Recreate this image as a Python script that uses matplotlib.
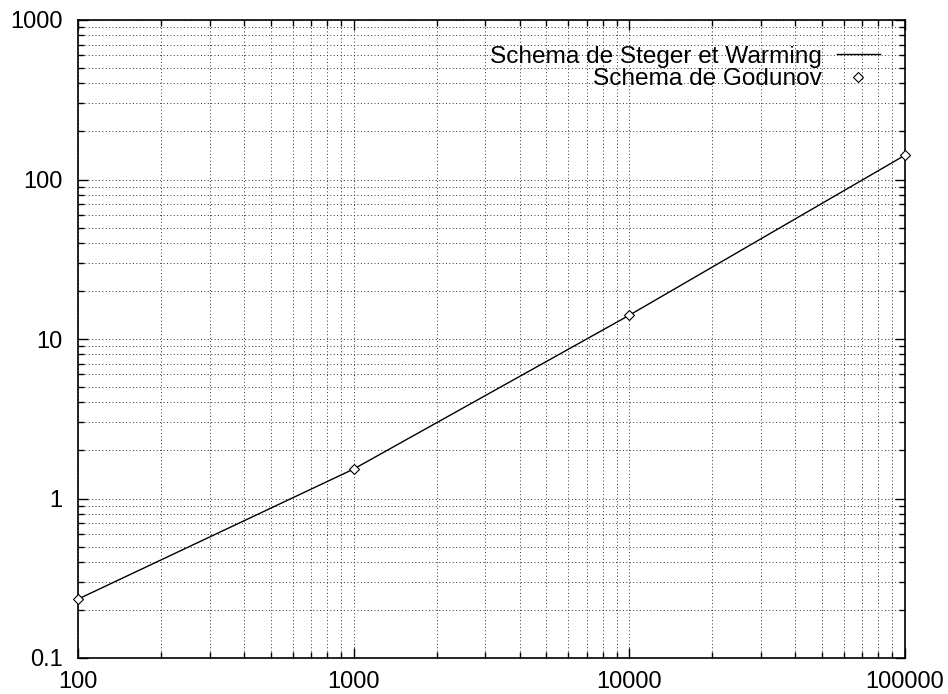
import numpy as np
import matplotlib
matplotlib.use("Agg")
import matplotlib.pyplot as plt
from matplotlib.ticker import LogLocator, NullFormatter

plt.rcParams['font.family'] = ['Liberation Sans', 'DejaVu Sans']

# data
n_points = [100, 1000, 10000, 100000]
steger_warming = [0.234, 1.53, 14.1, 142.0]
godunov = [0.234, 1.53, 14.1, 142.0]

xticks = [100, 1000, 10000, 100000]
xlabels = ["100", "1000", "10000", "100000"]
yticks = [0.1, 1, 10, 100, 1000]
ylabels = ["0.1", "1", "10", "100", "1000"]

fig = plt.figure(figsize=(9.48, 6.94), dpi=100)
ax = fig.add_axes([78 / 948, 1 - 658 / 694, (905 - 78) / 948, (658 - 20) / 694])

ax.plot(n_points, steger_warming, color='black', lw=1.0,
        label="Schema de Steger et Warming")
ax.plot(n_points, godunov, ls='none', marker='D', ms=5, mfc='white',
        mec='black', mew=0.8, clip_on=False, zorder=5,
        label="Schema de Godunov")

ax.set_xscale('log')
ax.set_yscale('log')
ax.set_xlim(100, 100000)
ax.set_ylim(0.1, 1000)

ax.set_xticks(xticks)
ax.set_xticklabels(xlabels)
ax.set_yticks(yticks)
ax.set_yticklabels(ylabels)
ax.xaxis.set_minor_locator(LogLocator(base=10, subs=np.arange(2, 10)))
ax.yaxis.set_minor_locator(LogLocator(base=10, subs=np.arange(2, 10)))
ax.xaxis.set_minor_formatter(NullFormatter())
ax.yaxis.set_minor_formatter(NullFormatter())

ax.tick_params(which='both', direction='in', top=True, right=True,
               labelsize=17, width=1.0, color='black')
ax.tick_params(which='major', length=7)
ax.tick_params(axis='y', which='major', pad=11)
ax.tick_params(axis='x', which='major', pad=9)
ax.tick_params(which='minor', length=4)

ax.grid(True, which='both', ls=(0, (1, 2.5)), color='#333333', lw=0.7)
for s in ax.spines.values():
    s.set_linewidth(1.2)

ax.legend(loc='upper right', frameon=False, markerfirst=False, fontsize=17.6,
          handlelength=1.75, borderaxespad=0.64, borderpad=0.4,
          labelspacing=0.03, handletextpad=0.62)

fig.savefig("out.png", dpi=100)
